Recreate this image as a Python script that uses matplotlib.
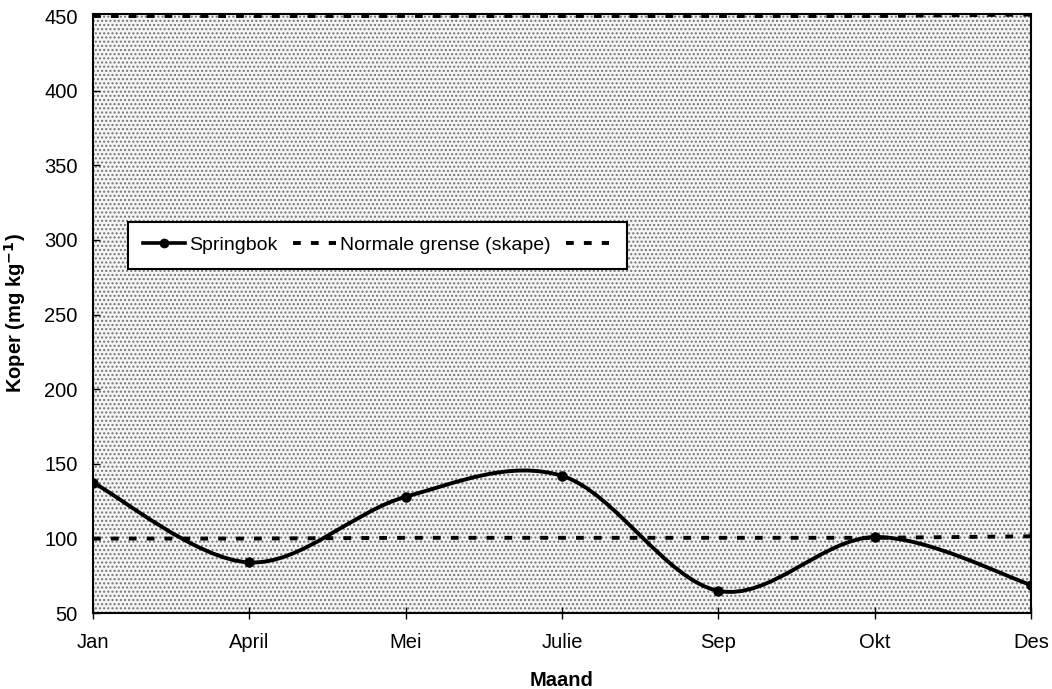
import matplotlib.pyplot as plt
import numpy as np
from matplotlib.path import Path
from matplotlib.patches import PathPatch, Rectangle
from matplotlib.lines import Line2D

plt.rcParams.update({
    "font.family": "Liberation Sans",
    "font.size": 14.5,
})

# ==========================================
# Data
# ==========================================
months = ['Jan', 'April', 'Mei', 'Julie', 'Sep', 'Okt', 'Des']
springbok = [137.5, 84, 128, 142, 65, 101, 69]
grens_laag = [100, 100, 100.5, 100.5, 100.5, 100.5, 101.5]
grens_hoog = [450, 450, 450, 450, 450, 450, 451]


def smooth_path(xs, ys):
    # Excel-style smoothed line: cubic Bezier segments through every point
    pts = np.column_stack([xs, ys]).astype(float)
    n = len(pts)
    verts = [pts[0]]
    codes = [Path.MOVETO]
    for i in range(n - 1):
        p0 = pts[i - 1] if i > 0 else pts[i]
        p1 = pts[i]
        p2 = pts[i + 1]
        p3 = pts[i + 2] if i + 2 < n else pts[i + 1]
        c1 = p1 + (p2 - p0) / 6.0
        c2 = p2 - (p3 - p1) / 6.0
        verts += [c1, c2, p2]
        codes += [Path.CURVE4] * 3
    return Path(verts, codes)


fig = plt.figure(figsize=(10.52, 6.89), dpi=100)
ax = fig.add_axes([0.0884, 0.110, 0.8916, 0.870])

x = np.arange(len(months))

# stippled grey plot area
ax.set_facecolor('white')
ax.add_patch(Rectangle((0, 0), 1, 1, transform=ax.transAxes, facecolor='#f5f5f5',
                       edgecolor='#747474', hatch='....', lw=0, zorder=0))

dash = (0, (2.0, 2.6))
ax.plot(x, grens_laag, color='black', lw=2.8, linestyle=dash, zorder=2)
ax.plot(x, grens_hoog, color='black', lw=2.8, linestyle=dash, zorder=2)

ax.add_patch(PathPatch(smooth_path(x, springbok), facecolor='none', edgecolor='black',
                       lw=2.8, zorder=3))
ax.plot(x, springbok, linestyle='none', marker='o', markersize=6.5, color='black', zorder=4)

ax.set_xlim(0, len(months) - 1)
ax.set_ylim(50, 451.5)
ax.set_xticks(x)
ax.set_xticklabels(months)
ax.set_yticks(np.arange(50, 451, 50))
ax.tick_params(axis='y', direction='in', length=5, width=1, pad=11)
ax.tick_params(axis='x', direction='inout', length=8, width=1, pad=10)
for s in ax.spines.values():
    s.set_linewidth(1.5)

ax.set_xlabel('Maand', fontweight='bold', labelpad=14)
ax.set_ylabel('Koper (mg kg$^{\\mathbf{-1}}$)', fontweight='bold', labelpad=12)

handles = [
    Line2D([], [], color='black', lw=2.6, marker='o', markersize=6),
    Line2D([], [], color='black', lw=2.8, linestyle=dash),
    Line2D([], [], color='black', lw=2.8, linestyle=dash),
]
leg = ax.legend(handles, ['Springbok', 'Normale grense (skape)', ''], ncol=3,
                loc='upper left', bbox_to_anchor=(0.0373, 0.653), borderaxespad=0,
                frameon=True, fancybox=False, edgecolor='black', framealpha=1,
                handlelength=2.2, handletextpad=0.2, columnspacing=0.8,
                borderpad=0.75, fontsize=14)
leg.get_frame().set_linewidth(1.5)

plt.savefig('out.png', dpi=100)
plt.close()
